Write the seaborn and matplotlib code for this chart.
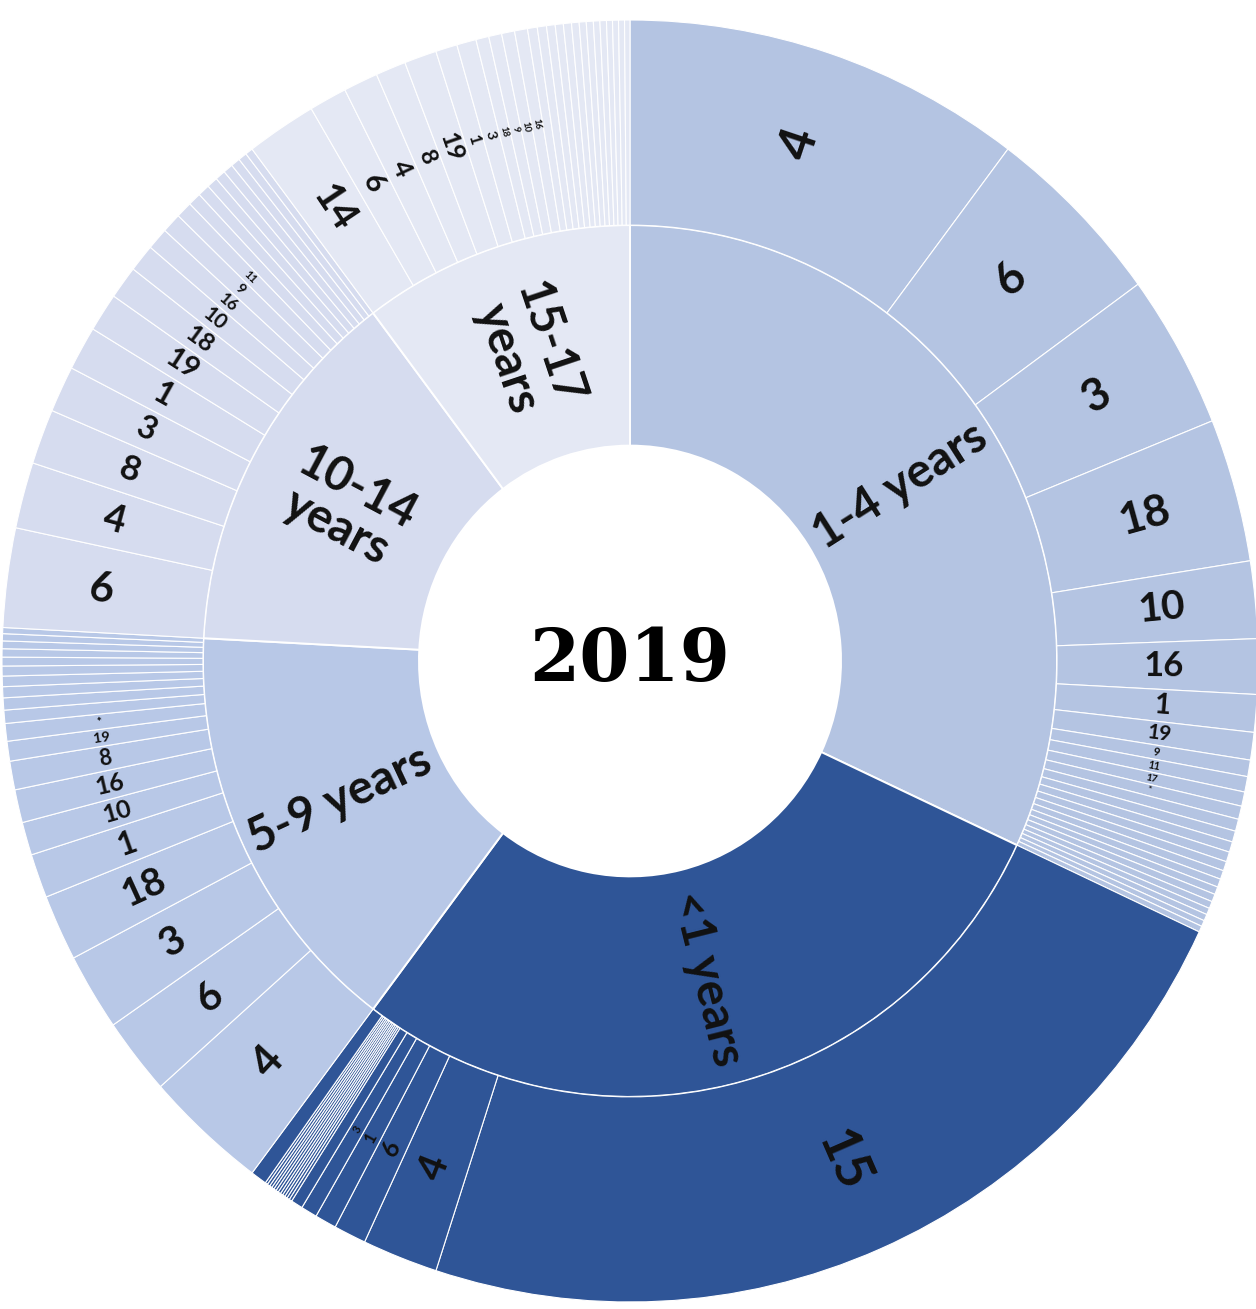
import numpy as np
import matplotlib
matplotlib.use("Agg")
import matplotlib.pyplot as plt
import seaborn as sns

# age groups, clockwise from 12 o'clock
groups = ['1-4 years', '<1 years', '5-9 years', '10-14\nyears', '15-17\nyears']

# cause codes and their share of deaths inside each age group
codes_1_4 = ['4', '6', '3', '18', '10', '16', '1', '19', '9', '11', '17', '*'] + [''] * 14
vals_1_4 = [37, 17, 14, 13, 7, 5, 3.4, 2.5, 1.5, 1.4, 1.3, 1.2,
            1.1, 1.0, 0.95, 0.9, 0.85, 0.8, 0.75, 0.7, 0.7, 0.65, 0.6, 0.6, 0.55, 0.55]

codes_lt1 = ['15', '4', '6', '1', '3'] + [''] * 14
vals_lt1 = [83, 7, 3, 2, 1.5, 1.1,
            0.26, 0.25, 0.24, 0.24, 0.23, 0.25, 0.24, 0.24, 0.23, 0.24, 0.25, 0.23, 1.5]

codes_5_9 = ['4', '6', '3', '18', '1', '10', '16', '8', '19', '*'] + [''] * 10
vals_5_9 = [11.4, 7, 7, 6, 4, 3, 3, 2.6, 1.8, 1.6,
            1.2, 1.1, 1.0, 0.95, 0.9, 0.8, 0.75, 0.7, 0.65, 0.55]

codes_10_14 = ['6', '4', '8', '3', '1', '19', '18', '10', '16', '9', '11'] + [''] * 8
vals_10_14 = [9, 6, 5, 4.2, 4, 3.5, 3, 2.5, 2, 1.8, 1.5,
              1.2, 1.1, 1.0, 0.95, 0.9, 0.85, 0.8, 0.7]

codes_15_17 = ['14', '6', '4', '8', '19', '1', '3', '18', '9', '10', '16'] + [''] * 14
vals_15_17 = [6.5, 3.5, 3.2, 2.8, 3, 2, 1.8, 1.2, 1.2, 1.2, 1.2,
              0.9, 0.85, 0.8, 0.75, 0.75, 0.7, 0.65, 0.65, 0.6, 0.6, 0.55, 0.55, 0.55, 0.5]

child_codes = [codes_1_4, codes_lt1, codes_5_9, codes_10_14, codes_15_17]
child_vals = [vals_1_4, vals_lt1, vals_5_9, vals_10_14, vals_15_17]

sns.set_theme(style="white")
plt.rcParams['font.family'] = ['Lato', 'DejaVu Sans']

group_colors = sns.color_palette(['#b4c4e2', '#2f5597', '#b8c8e7', '#d6dcef', '#e4e8f4'])

fig = plt.figure(figsize=(12.56, 13.09), dpi=100)
ax = fig.add_axes([0, 0, 1, 1])

group_totals = [sum(v) for v in child_vals]
outer_vals = [v for vals in child_vals for v in vals]
outer_codes = [c for codes in child_codes for c in codes]
outer_colors = [group_colors[i] for i, vals in enumerate(child_vals) for _ in vals]

inner, _ = ax.pie(group_totals, radius=0.68, startangle=90, counterclock=False,
                  colors=group_colors,
                  wedgeprops=dict(width=0.344, edgecolor='white', linewidth=1.4))
outer, _ = ax.pie(outer_vals, radius=1.0, startangle=90, counterclock=False,
                  colors=outer_colors,
                  wedgeprops=dict(width=0.32, edgecolor='white', linewidth=0.8))


def radial_rotation(theta):
    rot = (theta + 180) % 360 - 180
    if rot > 90:
        rot -= 180
    elif rot < -90:
        rot += 180
    return rot


def put_label(wedge, text, r, size):
    mid = np.deg2rad((wedge.theta1 + wedge.theta2) / 2)
    ax.text(r * np.cos(mid), r * np.sin(mid), text, ha='center', va='center',
            rotation=radial_rotation(np.rad2deg(mid)), rotation_mode='anchor',
            fontsize=size, fontweight='bold', color='#111111', linespacing=1.0)


for w, name in zip(inner, groups):
    put_label(w, name, 0.51, 34)

# label size shrinks with the width of the slice
for w, code in zip(outer, outer_codes):
    if not code:
        continue
    span = w.theta2 - w.theta1
    size = np.interp(span, [1, 1.5, 2, 2.5, 3, 3.5, 4, 5, 6.5, 10, 20, 40],
                     [6, 8, 12, 15, 18, 21, 23, 25, 29, 31, 34, 38])
    put_label(w, code, 0.85, size)

ax.text(0, 0, '2019', ha='center', va='center', fontsize=52,
        fontweight='bold', family='DejaVu Serif', color='black')

ax.set_aspect('auto')
ax.set_xlim(-630 / 628, 626 / 628)
ax.set_ylim(-648 / 641, 661 / 641)
ax.axis('off')

fig.savefig('out.png', dpi=100)
